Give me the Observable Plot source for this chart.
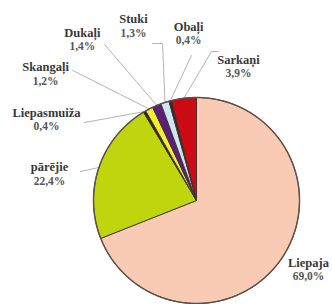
<!DOCTYPE html>
<html><head><meta charset="utf-8">
<script src="https://cdn.jsdelivr.net/npm/d3@7"></script>
<script src="https://cdn.jsdelivr.net/npm/@observablehq/plot@0.6"></script>
<style>html,body{margin:0;padding:0;background:#fff}
#chart svg text, #chart svg g{font-family:"Liberation Serif","DejaVu Serif","Times New Roman",serif !important;}</style>
</head><body><div id="chart"></div>
<script>
// ---- data ----
const names = ["Liepaja", "pārējie", "Liepasmuiža", "Skangaļi", "Dukaļi", "Stuki", "Obaļi", "Sarkaņi"];
const shares = [69.0, 22.4, 0.4, 1.2, 1.4, 1.3, 0.4, 3.9];
const pctLabels = ["69,0%", "22,4%", "0,4%", "1,2%", "1,4%", "1,3%", "0,4%", "3,9%"];
const colors = ["#F9CAB4", "#BFD50E", "#2E2A14", "#F2EE34", "#5C1F78", "#CDE6F2", "#3E2424", "#CC0A14"];

// ---- label layout (polar: degrees clockwise from north, radius in pie radii) ----
const labelAngle  = [119.0, 282.7, 300.4, 311.4, 325.8, 340.8, 357.4, 16.6];
const labelRadius = [1.243, 1.463, 1.688, 1.953, 1.971, 1.861, 1.691, 1.428];
const leaderAngle  = [null, 284.0, 304.85, 316.4, 329.5, 347.8, 358.0, 5.75];
const leaderRadius = [null, 1.161, 1.325, 1.744, 1.758, 1.559, 1.409, 1.454];
const leaderElbow  = [0, 0, 0, 0, 0, -0.097, 0, 0.068];

// ---- geometry from data ----
const R = 103, W = 332, H = 304, CX = 196, CY = 200;
const pol = (deg, r) => ({x: r * Math.sin(deg * Math.PI / 180), y: r * Math.cos(deg * Math.PI / 180)});
const total = d3.sum(shares);
let cum = 0;
const slices = shares.map((v, i) => {
  const a0 = cum / total * 360; cum += v; const a1 = cum / total * 360;
  const n = Math.max(2, Math.ceil((a1 - a0) / 0.5));
  const pts = [{x: 0, y: 0}];
  for (let k = 0; k <= n; k++) pts.push(pol(a0 + (a1 - a0) * k / n, 1));
  pts.push({x: 0, y: 0});
  return {name: names[i], color: colors[i], mid: (a0 + a1) / 2, pts};
});
const outline = d3.range(0, 361, 0.5).map(a => pol(a, 1));

const labels = names.map((n, i) => ({name: n, pct: pctLabels[i], ...pol(labelAngle[i], labelRadius[i])}));
const leaders = names.map((n, i) => {
  if (leaderAngle[i] == null) return null;
  const s = pol(leaderAngle[i], leaderRadius[i]);
  const e = pol(slices[i].mid, 1.0);
  const pts = [];
  if (leaderElbow[i]) pts.push({x: s.x + leaderElbow[i], y: s.y});
  pts.push(s, e);
  return pts;
}).filter(Boolean);

const font = "Liberation Serif, DejaVu Serif, serif";
const chart = Plot.plot({
  width: W, height: H, margin: 0,
  style: {fontFamily: font},
  x: {domain: [-CX / R, (W - CX) / R], axis: null},
  y: {domain: [-(H - CY) / R, CY / R], axis: null},
  marks: [
    ...leaders.map(p => Plot.line(p, {x: "x", y: "y", stroke: "#b4b4b4", strokeWidth: 1})),
    ...slices.map(s => Plot.line(s.pts, {x: "x", y: "y", fill: s.color, stroke: "#3e302c", strokeWidth: 0.9, strokeLinejoin: "round"})),
    Plot.line(outline, {x: "x", y: "y", stroke: "#5e4f49", strokeWidth: 1.4}),
    Plot.text(labels, {x: "x", y: "y", text: "name", fontSize: 12.5, fontWeight: "bold", fontFamily: font, fill: "#383838"}),
    Plot.text(labels, {x: "x", y: "y", text: "pct", dy: 14, fontSize: 11.5, fontWeight: "bold", fontFamily: font, fill: "#555"})
  ]
});
document.getElementById("chart").appendChild(chart);
</script>
</body></html>
